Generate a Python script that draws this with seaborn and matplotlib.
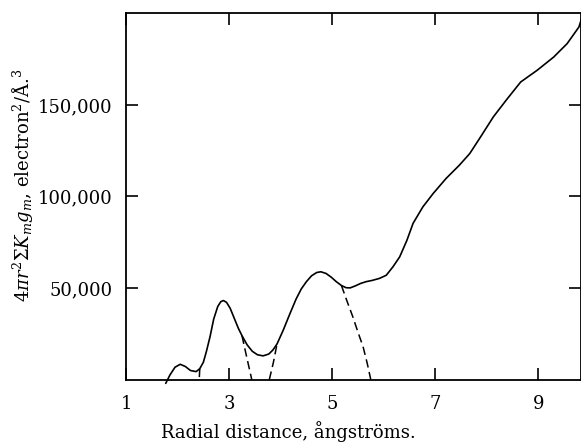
import pandas as pd
import seaborn as sns
import matplotlib.pyplot as plt
from matplotlib.ticker import FuncFormatter

# solid curve (r in angstroms, value in electron^2/A^3)
r_main = [1.77, 1.85, 1.95, 2.05, 2.15, 2.25, 2.36, 2.43, 2.50, 2.56, 2.63, 2.70,
          2.78, 2.84, 2.89, 2.95, 3.02, 3.10, 3.18, 3.25, 3.35, 3.45, 3.55, 3.66,
          3.77, 3.85, 3.93, 4.05, 4.18, 4.30, 4.40, 4.50, 4.60, 4.70, 4.78, 4.88,
          4.98, 5.08, 5.18, 5.27, 5.35, 5.45, 5.55, 5.66, 5.78, 5.92, 6.05, 6.18,
          6.31, 6.45, 6.57, 6.76, 6.96, 7.21, 7.47, 7.67, 7.86, 8.13, 8.39, 8.66,
          8.98, 9.30, 9.56, 9.79, 9.84]
g_main = [-2000, 2500, 6800, 8400, 7200, 5000, 4400, 6000, 9500, 15500, 23500, 33000,
          40000, 42600, 43200, 42200, 39000, 33500, 28000, 24000, 19000, 15500, 13600, 13000,
          14000, 16200, 19500, 27000, 36000, 44000, 49500, 53500, 56700, 58500, 58900, 58000,
          56000, 53500, 51400, 50200, 50100, 51200, 52500, 53500, 54200, 55300, 57000, 61600,
          67000, 76000, 85300, 94300, 101600, 109800, 117100, 123400, 131600, 143500, 153000, 162500,
          168900, 176100, 183400, 192500, 197000]

# dashed resolution of the peaks
r_d1 = [2.43, 2.42]
g_d1 = [6000, 0]
r_d2 = [3.25, 3.32, 3.38, 3.44]
g_d2 = [24000, 15000, 7500, 0]
r_d3 = [3.78, 3.86, 3.93]
g_d3 = [0, 9500, 19500]
r_d4 = [5.18, 5.28, 5.40, 5.50, 5.60, 5.68, 5.75]
g_d4 = [51400, 43500, 34400, 26000, 18000, 9000, 0]

x_ticks = [1, 3, 5, 7, 9]
y_ticks = [50000, 100000, 150000]

sns.set_style('ticks')
plt.rcParams['font.family'] = ['DejaVu Serif']
plt.rcParams['mathtext.fontset'] = 'dejavuserif'

fig = plt.figure(figsize=(5.81, 4.42), dpi=100)
ax = fig.add_axes([0.217, 0.141, 0.783, 0.829])

df = pd.DataFrame({'r': r_main, 'g': g_main})
sns.lineplot(x='r', y='g', data=df, ax=ax, sort=False, color='black',
             linewidth=1.2, clip_on=False)

for rr, gg in [(r_d1, g_d1), (r_d2, g_d2), (r_d3, g_d3), (r_d4, g_d4)]:
    d = pd.DataFrame({'r': rr, 'g': gg})
    sns.lineplot(x='r', y='g', data=d, ax=ax, sort=False, color='black',
                 linewidth=1.1, linestyle=(0, (5.5, 3)))

ax.set_xlim(1, 9.83)
ax.set_ylim(0, 200000)
ax.set_xticks(x_ticks)
ax.set_yticks(y_ticks)
ax.yaxis.set_major_formatter(FuncFormatter(lambda v, p: f'{int(v):,}'))

for s in ax.spines.values():
    s.set_linewidth(1.3)
    s.set_color('black')

ax.tick_params(direction='in', length=8.5, width=1.2, top=True, right=True,
               labelsize=13, colors='black', labelcolor='black')
ax.tick_params(axis='x', pad=11)
ax.tick_params(axis='y', pad=10)

ax.set_xlabel('Radial distance, ångströms.', fontsize=13, color='black')
ax.set_ylabel(r'$4\pi r^2\Sigma K_m g_m$, electron$^2$/Å.$^3$', fontsize=13, color='black')
ax.xaxis.set_label_coords(0.356, -0.112)
ax.yaxis.set_label_coords(-0.20, 0.53)

plt.savefig('out.png', dpi=100)
